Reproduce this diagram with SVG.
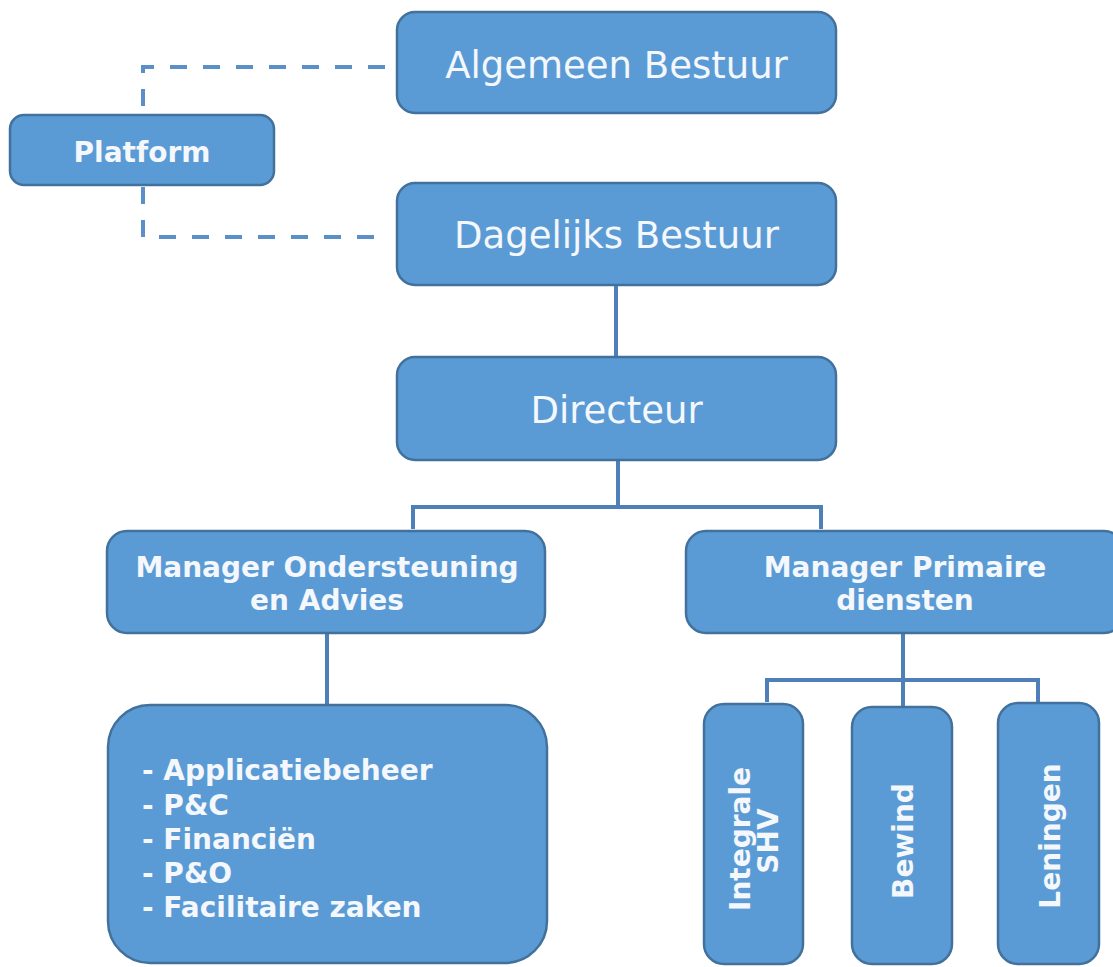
<svg xmlns="http://www.w3.org/2000/svg" width="1113" height="967" viewBox="0 0 1113 967">
<style>
.box{fill:#5b9bd5;stroke:#41719c;stroke-width:2.5}
.t{fill:#f4f7fb;font-family:"DejaVu Sans",Verdana,sans-serif}
.big{font-size:37px;text-anchor:middle}
.b{font-size:28px;font-weight:bold}
.c{text-anchor:middle}
.con{fill:none;stroke:#4f7fb8;stroke-width:4}
.dash{fill:none;stroke:#5b8fc8;stroke-width:4;stroke-dasharray:17 16}
</style>
<rect width="1113" height="967" fill="#ffffff"/>
<g id="connectors">
<path class="dash" d="M385,67 H143 V115"/>
<path class="dash" d="M143,187 V237 H385"/>
<path class="con" d="M616,285 V357"/>
<path class="con" d="M618,460 V507"/>
<path class="con" d="M413,529 V507 H821 V529"/>
<path class="con" d="M327,633 V705"/>
<path class="con" d="M903,633 V707"/>
<path class="con" d="M767,702 V680 H1038 V702"/>
</g>
<g id="algemeen-bestuur">
<rect class="box" x="397" y="12" width="439" height="101" rx="18"/>
<text class="t big" x="616.5" y="78">Algemeen Bestuur</text>
</g>
<g id="platform">
<rect class="box" x="10" y="115" width="264" height="70" rx="14"/>
<text class="t b c" x="142" y="162">Platform</text>
</g>
<g id="dagelijks-bestuur">
<rect class="box" x="397" y="183" width="439" height="102" rx="18"/>
<text class="t big" x="616.5" y="248">Dagelijks Bestuur</text>
</g>
<g id="directeur">
<rect class="box" x="397" y="357" width="439" height="103" rx="18"/>
<text class="t big" x="616.5" y="423">Directeur</text>
</g>
<g id="manager-ondersteuning">
<rect class="box" x="107" y="531" width="438" height="102" rx="20"/>
<text class="t b c" x="327" y="577">Manager Ondersteuning</text>
<text class="t b c" x="327" y="610">en Advies</text>
</g>
<g id="manager-primaire">
<rect class="box" x="686" y="531" width="438" height="102" rx="20"/>
<text class="t b c" x="905" y="577">Manager Primaire</text>
<text class="t b c" x="905" y="610">diensten</text>
</g>
<g id="ondersteuning-taken">
<rect class="box" x="108" y="705" width="439" height="258" rx="42"/>
<text class="t b" x="142" y="780">- Applicatiebeheer</text>
<text class="t b" x="142" y="815">- P&amp;C</text>
<text class="t b" x="142" y="849">- Financiën</text>
<text class="t b" x="142" y="883">- P&amp;O</text>
<text class="t b" x="142" y="917">- Facilitaire zaken</text>
</g>
<g id="integrale-shv">
<rect class="box" x="704" y="704" width="99" height="260" rx="20"/>
<text class="t b c" transform="translate(0,839) rotate(-90)" x="0" y="750">Integrale</text>
<text class="t b c" transform="translate(0,841) rotate(-90)" x="0" y="778">SHV</text>
</g>
<g id="bewind">
<rect class="box" x="852" y="707" width="100" height="257" rx="20"/>
<text class="t b c" transform="translate(0,841) rotate(-90)" x="0" y="913">Bewind</text>
</g>
<g id="leningen">
<rect class="box" x="998" y="703" width="101" height="261" rx="20"/>
<text class="t b c" transform="translate(0,836) rotate(-90)" x="0" y="1060">Leningen</text>
</g>
</svg>
